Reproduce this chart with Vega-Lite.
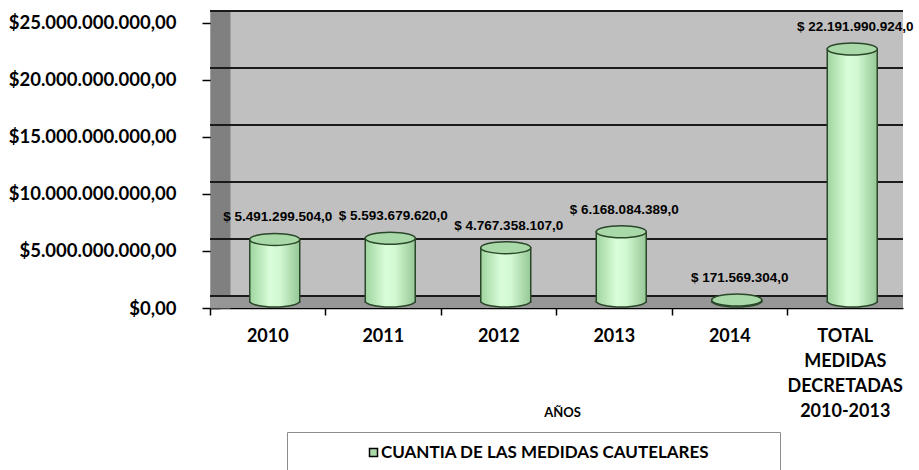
{
  "$schema": "https://vega.github.io/schema/vega-lite/v6.json",
  "width": 693,
  "height": 298,
  "autosize": {"type": "none"},
  "padding": {"left": 210, "top": 10, "right": 16, "bottom": 162},
  "background": "white",
  "config": {
    "locale": {"number": {"decimal": ",", "thousands": ".", "grouping": [3], "currency": ["$", ""]}},
    "view": {"fill": "#c0c0c0", "stroke": null}
  },
  "data": {
    "values": [
      {"anio": "2010", "valor": 5491299504.0, "etiqueta": "$ 5.491.299.504,0"},
      {"anio": "2011", "valor": 5593679620.0, "etiqueta": "$ 5.593.679.620,0"},
      {"anio": "2012", "valor": 4767358107.0, "etiqueta": "$ 4.767.358.107,0"},
      {"anio": "2013", "valor": 6168084389.0, "etiqueta": "$ 6.168.084.389,0"},
      {"anio": "2014", "valor": 171569304.0, "etiqueta": "$ 171.569.304,0"},
      {"anio": "TOTAL MEDIDAS DECRETADAS 2010-2013", "valor": 22191990924.0, "etiqueta": "$ 22.191.990.924,0"}
    ]
  },
  "layer": [
    {
      "data": {"values": [{"v": 0}]},
      "mark": {"type": "rule", "color": "#969696", "strokeWidth": 12, "yOffset": -6},
      "encoding": {
        "y": {
          "field": "v", "type": "quantitative",
          "scale": {"domain": [0, 26140000000], "nice": false, "zero": true},
          "axis": {
            "values": [0, 5000000000, 10000000000, 15000000000, 20000000000, 25000000000],
            "format": "$,.2f",
            "labelFont": "Lato", "labelFontWeight": "bold", "labelFontSize": 18.5, "labelColor": "#000",
            "grid": false, "offset": -10, "domainColor": "#808080", "domainWidth": 20,
            "tickColor": "#000", "tickWidth": 1.5, "tickSize": 18, "labelPadding": 26,
            "title": null, "zindex": 0
          }
        }
      }
    },
    {
      "data": {"values": [{"v": 0}, {"v": 5000000000}, {"v": 10000000000}, {"v": 15000000000}, {"v": 20000000000}, {"v": 25000000000}]},
      "mark": {"type": "rule", "color": "#1a1a1a", "strokeWidth": 2, "yOffset": -12},
      "encoding": {
        "y": {"field": "v", "type": "quantitative"}
      }
    },
    {
      "mark": {
        "type": "bar",
        "width": 50,
        "xOffset": 7,
        "yOffset": -6,
        "stroke": "#2a472a",
        "strokeWidth": 1.5,
        "fill": {"gradient": "linear", "x1": 0, "x2": 1, "y1": 0, "y2": 0,
          "stops": [{"offset": 0, "color": "#9fd49f"}, {"offset": 0.4, "color": "#d8fdd8"}, {"offset": 0.6, "color": "#d2f8d2"}, {"offset": 1, "color": "#95c795"}]}
      },
      "encoding": {
        "x": {
          "field": "anio", "type": "nominal", "sort": null,
          "scale": {"paddingInner": 0, "paddingOuter": 0},
          "axis": {
            "title": "AÑOS", "titleFont": "Lato", "titleFontWeight": "bold", "titleFontSize": 13, "titleColor": "#000",
            "titleX": 352, "titleY": 104, "titleBaseline": "middle", "titleAlign": "center",
            "labelFont": "Lato", "labelFontWeight": "bold", "labelFontSize": 18, "labelColor": "#000",
            "labelAngle": 0, "labelPadding": 12, "labelLineHeight": 25, "labelLimit": 300,
            "labelExpr": "split(datum.label, ' ')",
            "domainColor": "#000", "domainWidth": 1.5, "tickColor": "#000", "tickWidth": 1.5, "tickSize": 7,
            "bandPosition": 0
          }
        },
        "y": {"field": "valor", "type": "quantitative"}
      }
    },
    {
      "mark": {
        "type": "point",
        "shape": "M-1,0A1,0.24,0,0,0,1,0",
        "size": 2500,
        "filled": true,
        "opacity": 1,
        "xOffset": 7,
        "yOffset": -7,
        "stroke": "#2a472a",
        "strokeWidth": 1.5,
        "fill": {"gradient": "linear", "x1": 0, "x2": 1, "y1": 0, "y2": 0,
          "stops": [{"offset": 0, "color": "#9fd49f"}, {"offset": 0.4, "color": "#d8fdd8"}, {"offset": 0.6, "color": "#d2f8d2"}, {"offset": 1, "color": "#95c795"}]}
      },
      "encoding": {
        "x": {"field": "anio", "type": "nominal", "sort": null},
        "y": {"datum": 0, "type": "quantitative"}
      }
    },
    {
      "mark": {
        "type": "point",
        "shape": "M-1,0A1,0.24,0,1,0,1,0A1,0.24,0,1,0,-1,0Z",
        "size": 2500,
        "filled": true,
        "opacity": 1,
        "xOffset": 7,
        "yOffset": -6,
        "stroke": "#2a472a",
        "strokeWidth": 1.5
      },
      "encoding": {
        "x": {"field": "anio", "type": "nominal", "sort": null},
        "y": {"field": "valor", "type": "quantitative"},
        "color": {
          "datum": "CUANTIA DE LAS MEDIDAS CAUTELARES",
          "scale": {"range": ["#a9d9a9"]},
          "legend": {
            "orient": "none", "legendX": 77, "legendY": 422,
            "title": " ", "titleOrient": "right", "titlePadding": 59,
            "padding": 12, "strokeColor": "#8c8c8c",
            "symbolType": "square", "symbolSize": 64, "symbolStrokeWidth": 1.5, "symbolStrokeColor": "#000",
            "symbolOffset": 66, "labelOffset": -1,
            "labelFont": "Lato", "labelFontWeight": "bold", "labelFontSize": 17, "labelColor": "#000", "labelLimit": 600,
            "encode": {"symbols": {"update": {"fill": {"value": "#ccffcc"}, "stroke": {"value": "#000"}, "opacity": {"value": 1}}}}
          }
        }
      }
    },
    {
      "mark": {"type": "text", "font": "Liberation Sans", "fontWeight": "bold", "fontSize": 13.5, "dx": 10, "dy": -28, "color": "#000"},
      "encoding": {
        "x": {"field": "anio", "type": "nominal", "sort": null},
        "y": {"field": "valor", "type": "quantitative"},
        "text": {"field": "etiqueta"}
      }
    }
  ]
}
